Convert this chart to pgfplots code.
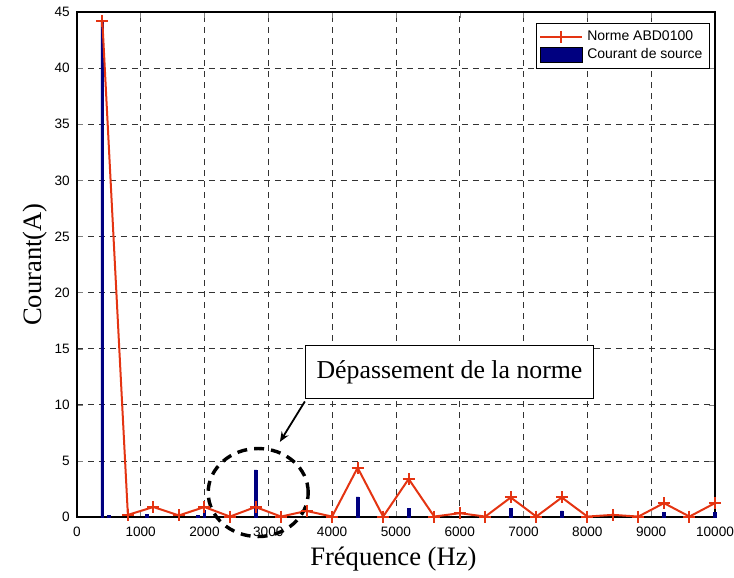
\documentclass[border=0pt]{standalone}
\usepackage{fontspec}
\setmainfont{Liberation Serif}
\newfontfamily\arial{Liberation Sans}
\usepackage{pgfplots}
\pgfplotsset{compat=1.18}
\usetikzlibrary{arrows.meta}

\definecolor{normred}{RGB}{228,52,18}
\definecolor{srcblue}{RGB}{0,0,128}

\begin{document}
\begin{tikzpicture}
\begin{axis}[
    scale only axis,
    width=319pt, height=252.5pt,
    xmin=0, xmax=10000, ymin=0, ymax=45,
    xtick={0,1000,...,10000},
    ytick={0,5,...,45},
    scaled x ticks=false,
    /pgf/number format/1000 sep={},
    /pgf/number format/assume math mode=true,
    tick label style={font=\arial\fontsize{6.8}{8}\selectfont, text=black},
    xticklabel style={yshift=-1.5pt, inner xsep=0pt},
    tick align=inside,
    major tick length=3pt,
    axis line style={line width=0.8pt},
    grid=major,
    major grid style={dash pattern=on 3pt off 2.5pt, black!80, line width=0.4pt},
    xlabel={Fréquence (Hz)},
    ylabel={Courant(A)},
    label style={font=\fontsize{13.3}{15}\selectfont},
    xlabel style={at={(axis description cs:0.496,-0.083)}, anchor=center},
    ylabel style={at={(axis description cs:-0.0655,0.5)}, anchor=center},
    legend style={at={(rel axis cs:1,1)}, anchor=north east, xshift=-2.5pt, yshift=-5.5pt,
        font=\arial\fontsize{7}{8.5}\selectfont, draw=black, line width=0.5pt,
        inner sep=1.5pt, row sep=-1.5pt},
    legend cell align=left,
    clip=false,
]
% courant de source (barres)
\addplot[ybar, bar width=1.4pt, fill=srcblue, draw=srcblue, forget plot] coordinates {
    (400,44.2) (500,0.15) (1100,0.25) (1900,0.15) (2000,0.6) (2800,4.2)
    (4400,1.8) (5200,0.8) (6800,0.8) (7600,0.55) (9200,0.45) (10000,0.4)
};
% norme ABD0100
\addplot[normred, line width=1pt, mark=+, mark size=3pt,
    legend image code/.code={
        \draw[mark repeat=2, mark phase=2] plot coordinates {(0cm,0cm) (0.37cm,0cm) (0.74cm,0cm)};}]
coordinates {
    (400,44.2) (800,0.2) (1200,0.9) (1600,0.15) (2000,0.9) (2400,0.05)
    (2800,0.9) (3200,0.05) (3600,0.55) (4000,0.05) (4400,4.4) (4800,0.05)
    (5200,3.4) (5600,0.05) (6000,0.35) (6400,0.05) (6800,1.75) (7200,0.05)
    (7600,1.75) (8000,0.05) (8400,0.2) (8800,0.05) (9200,1.25) (9600,0.05)
    (10000,1.25)
};
\addlegendentry{Norme ABD0100}
\addlegendimage{legend image code/.code={
    \draw[fill=srcblue, draw=black, line width=0.4pt] (0cm,-0.13cm) rectangle (0.74cm,0.13cm);}}
\addlegendentry{Courant de source}

% annotation
\node[draw=black, line width=0.6pt, fill=white, font=\fontsize{12.9}{15}\selectfont,
    minimum width=144pt, minimum height=26.5pt, inner sep=2pt]
    (ann) at (axis cs:5840,12.9) {Dépassement de la norme};
\draw[line width=0.9pt, -{Stealth[length=5pt,width=4pt]}] ([yshift=-1pt]ann.south west) -- (axis cs:3182,6.7);
\draw[line width=1.7pt, dash pattern=on 5pt off 3.5pt] (axis cs:2842,2.19) ellipse [x radius=25pt, y radius=22pt];
\end{axis}
\path (current axis.south west) ++(-38.4pt,-28.5pt);
\path (current axis.north east) ++(9.5pt,6pt);
\end{tikzpicture}
\end{document}
